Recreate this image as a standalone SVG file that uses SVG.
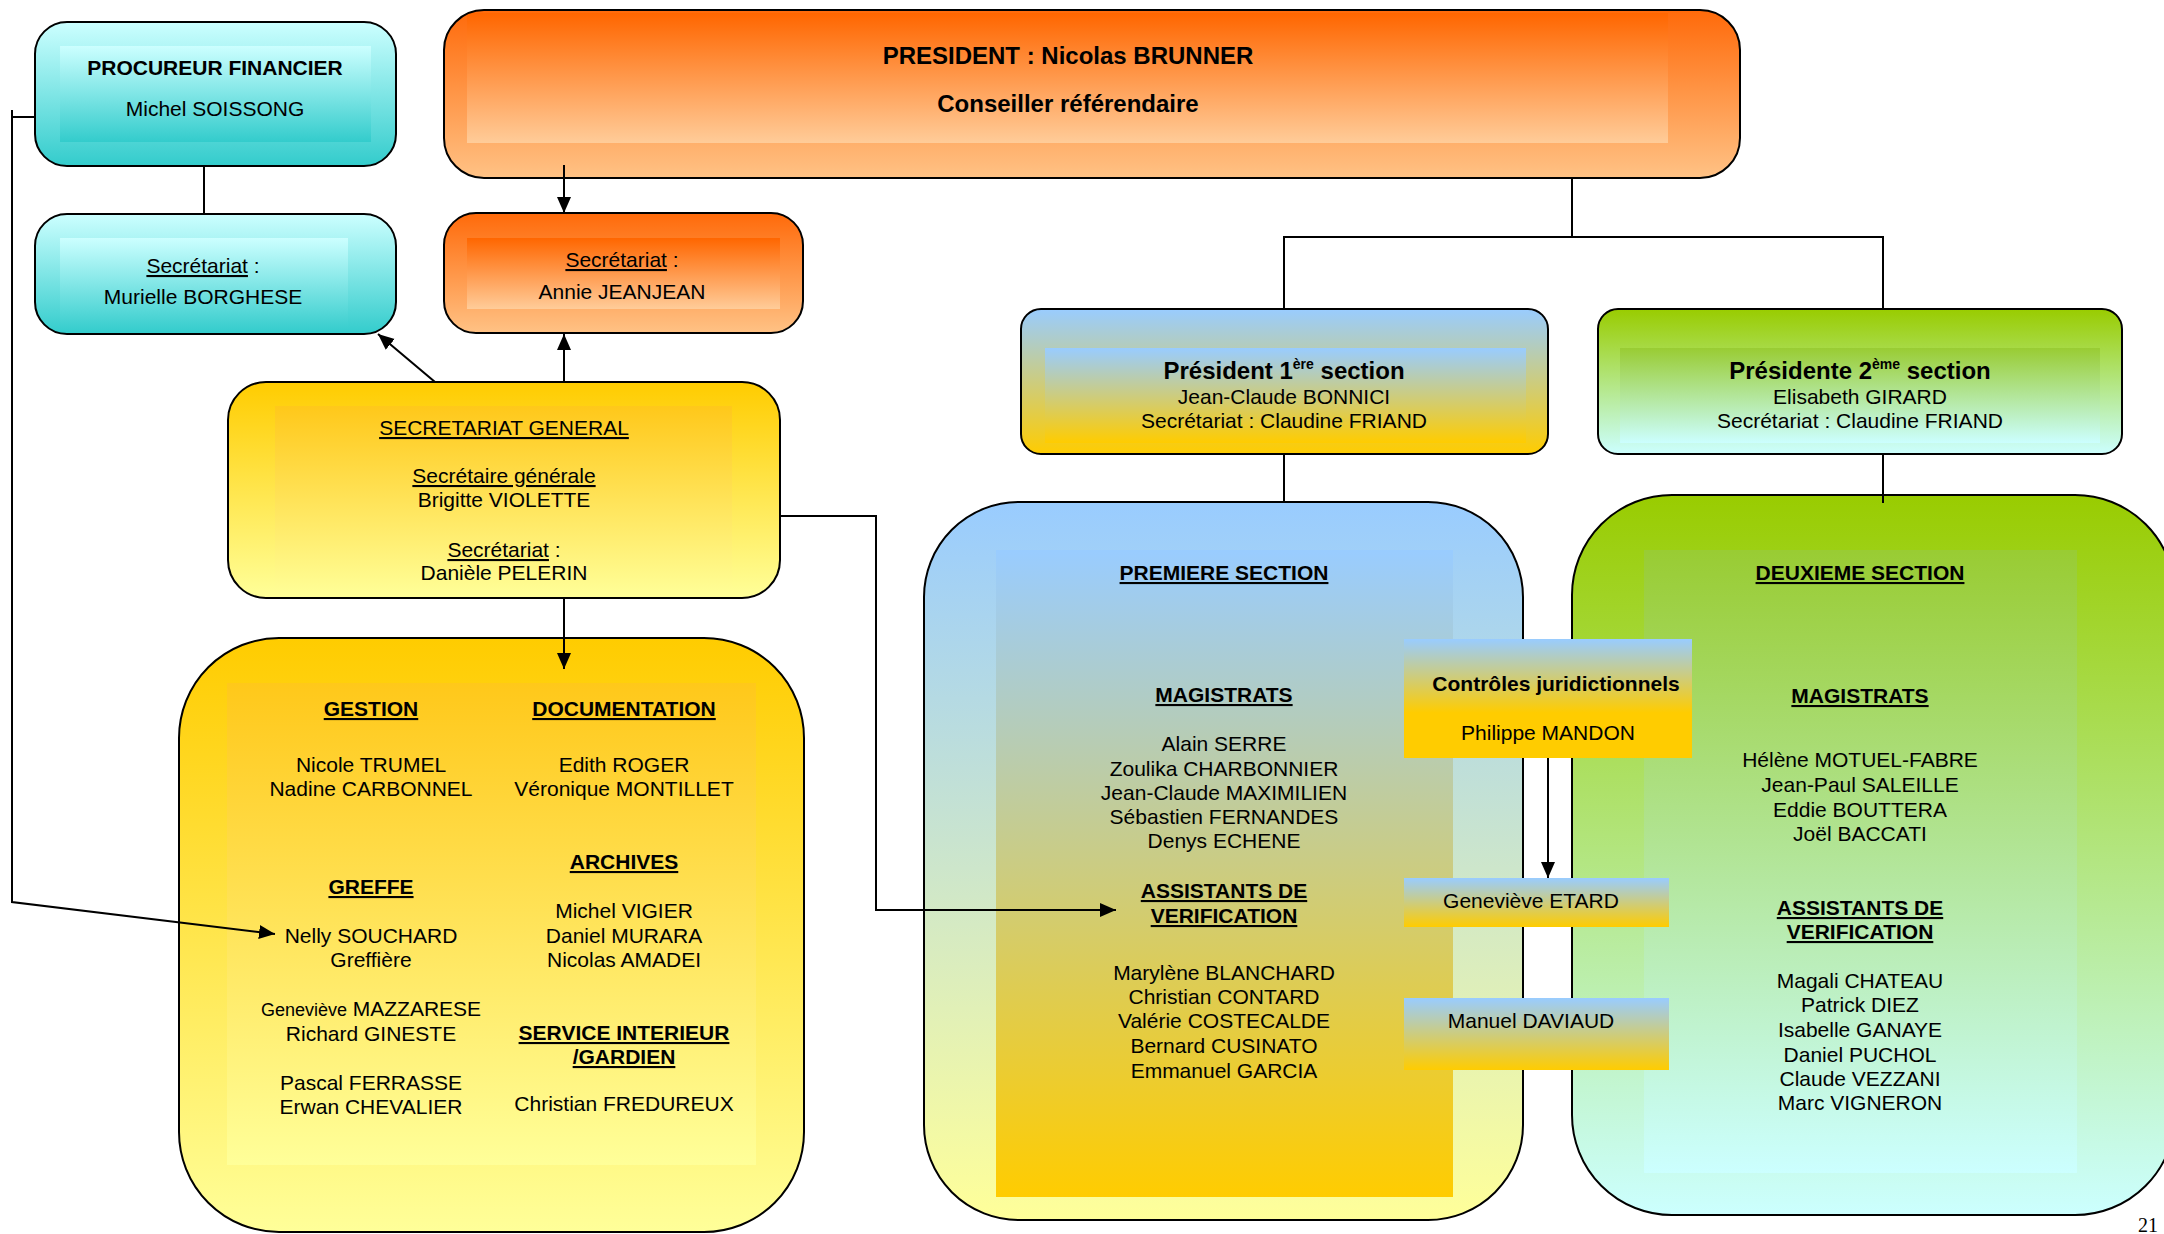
<svg xmlns="http://www.w3.org/2000/svg" width="2164" height="1234" viewBox="0 0 2164 1234">
<defs>
<linearGradient id="gCyan" x1="0" y1="0" x2="0" y2="1"><stop offset="0" stop-color="#CCFFFF"/><stop offset="1" stop-color="#33CCCC"/></linearGradient>
<linearGradient id="gOrange" x1="0" y1="0" x2="0" y2="1"><stop offset="0" stop-color="#FF6600"/><stop offset="1" stop-color="#FFCC99"/></linearGradient>
<linearGradient id="gOrangeOut" x1="0" y1="0" x2="0" y2="1"><stop offset="0" stop-color="#FF6A0A"/><stop offset="1" stop-color="#FFC285"/></linearGradient>
<linearGradient id="gGold" x1="0" y1="0" x2="0" y2="1"><stop offset="0" stop-color="#FFCC00"/><stop offset="1" stop-color="#FFFF99"/></linearGradient>
<linearGradient id="gGoldIn" x1="0" y1="0" x2="0" y2="1"><stop offset="0" stop-color="#FFC81A"/><stop offset="1" stop-color="#FFFF99"/></linearGradient>
<linearGradient id="gBlueGold" x1="0" y1="0" x2="0" y2="1"><stop offset="0" stop-color="#99CCFF"/><stop offset="1" stop-color="#FFCC00"/></linearGradient>
<linearGradient id="gBlueYellow" x1="0" y1="0" x2="0" y2="1"><stop offset="0" stop-color="#99CCFF"/><stop offset="1" stop-color="#FFFF99"/></linearGradient>
<linearGradient id="gGreen" x1="0" y1="0" x2="0" y2="1"><stop offset="0" stop-color="#99CC00"/><stop offset="1" stop-color="#CCFFFF"/></linearGradient>
<linearGradient id="gGreenIn" x1="0" y1="0" x2="0" y2="1"><stop offset="0" stop-color="#99CC33"/><stop offset="1" stop-color="#CCFFFF"/></linearGradient>
<linearGradient id="gCtrl" x1="0" y1="0" x2="0" y2="1"><stop offset="0" stop-color="#99CCFF"/><stop offset="0.62" stop-color="#FFCC00"/><stop offset="1" stop-color="#FFCC00"/></linearGradient>
<marker id="arr" markerUnits="userSpaceOnUse" markerWidth="16" markerHeight="16" refX="16" refY="8" orient="auto"><path d="M0,1 L16,8 L0,15 z" fill="#000"/></marker>
<style>
.box{stroke:#000;stroke-width:2}
.t{font-family:"Liberation Sans",Arial,sans-serif;font-size:21px;fill:#000;text-anchor:middle}
.b{font-weight:bold}
.big{font-size:24px;font-weight:bold}
.u{text-decoration:underline}
.ln{fill:none;stroke:#000;stroke-width:2}
</style>
</defs>
<rect width="2164" height="1234" fill="#fff"/>

<g id="procureur">
<rect x="35" y="22" width="361" height="144" rx="32" fill="url(#gCyan)"/>
<rect x="60" y="46" width="311" height="96" fill="url(#gCyan)"/>
<rect class="box" x="35" y="22" width="361" height="144" rx="32" fill="none"/>
<text class="t b" x="215" y="75">PROCUREUR FINANCIER</text>
<text class="t" x="215" y="116">Michel SOISSONG</text>
</g>

<g id="secr-procureur">
<rect x="35" y="214" width="361" height="120" rx="32" fill="url(#gCyan)"/>
<rect x="60" y="238" width="288" height="95" fill="url(#gCyan)"/>
<rect class="box" x="35" y="214" width="361" height="120" rx="32" fill="none"/>
<text class="t" x="203" y="273"><tspan class="u">Secrétariat</tspan> :</text>
<text class="t" x="203" y="304">Murielle BORGHESE</text>
</g>

<g id="president">
<rect x="444" y="10" width="1296" height="168" rx="40" fill="url(#gOrangeOut)"/>
<rect x="467" y="13" width="1201" height="130" fill="url(#gOrange)"/>
<rect class="box" x="444" y="10" width="1296" height="168" rx="40" fill="none"/>
<text class="t big" x="1068" y="64">PRESIDENT : Nicolas BRUNNER</text>
<text class="t big" x="1068" y="112">Conseiller référendaire</text>
</g>

<g id="secr-president">
<rect x="444" y="213" width="359" height="120" rx="32" fill="url(#gOrangeOut)"/>
<rect x="467" y="238" width="313" height="71" fill="url(#gOrange)"/>
<rect class="box" x="444" y="213" width="359" height="120" rx="32" fill="none"/>
<text class="t" x="622" y="267"><tspan class="u">Secrétariat</tspan> :</text>
<text class="t" x="622" y="299">Annie JEANJEAN</text>
</g>

<g id="secretariat-general">
<rect x="228" y="382" width="552" height="216" rx="38" fill="url(#gGold)"/>
<rect x="275" y="406" width="457" height="192" fill="url(#gGoldIn)"/>
<rect class="box" x="228" y="382" width="552" height="216" rx="38" fill="none"/>
<text class="t u" x="504" y="435">SECRETARIAT GENERAL</text>
<text class="t u" x="504" y="483">Secrétaire générale</text>
<text class="t" x="504" y="507">Brigitte VIOLETTE</text>
<text class="t" x="504" y="557"><tspan class="u">Secrétariat</tspan> :</text>
<text class="t" x="504" y="580">Danièle PELERIN</text>
</g>

<g id="services">
<rect x="179" y="638" width="625" height="594" rx="100" fill="url(#gGold)"/>
<rect x="227" y="683" width="529" height="482" fill="url(#gGoldIn)"/>
<rect class="box" x="179" y="638" width="625" height="594" rx="100" fill="none"/>
<text class="t b u" x="371" y="716">GESTION</text>
<text class="t" x="371" y="772">Nicole TRUMEL</text>
<text class="t" x="371" y="796">Nadine CARBONNEL</text>
<text class="t b u" x="371" y="894">GREFFE</text>
<text class="t" x="371" y="943">Nelly SOUCHARD</text>
<text class="t" x="371" y="967">Greffière</text>
<text class="t" x="371" y="1016"><tspan font-size="18">Geneviève</tspan> MAZZARESE</text>
<text class="t" x="371" y="1041">Richard GINESTE</text>
<text class="t" x="371" y="1090">Pascal FERRASSE</text>
<text class="t" x="371" y="1114">Erwan CHEVALIER</text>
<text class="t b u" x="624" y="716">DOCUMENTATION</text>
<text class="t" x="624" y="772">Edith ROGER</text>
<text class="t" x="624" y="796">Véronique MONTILLET</text>
<text class="t b u" x="624" y="869">ARCHIVES</text>
<text class="t" x="624" y="918">Michel VIGIER</text>
<text class="t" x="624" y="943">Daniel MURARA</text>
<text class="t" x="624" y="967">Nicolas AMADEI</text>
<text class="t b u" x="624" y="1040">SERVICE INTERIEUR</text>
<text class="t b u" x="624" y="1064">/GARDIEN</text>
<text class="t" x="624" y="1111">Christian FREDUREUX</text>
</g>

<g id="president-1">
<rect x="1021" y="309" width="527" height="145" rx="20" fill="url(#gBlueGold)"/>
<rect x="1045" y="348" width="481" height="95" fill="url(#gBlueGold)"/>
<rect class="box" x="1021" y="309" width="527" height="145" rx="20" fill="none"/>
<text class="t big" x="1284" y="379">Président 1<tspan font-size="14" dy="-10">ère</tspan><tspan dy="10"> section</tspan></text>
<text class="t" x="1284" y="404">Jean-Claude BONNICI</text>
<text class="t" x="1284" y="428">Secrétariat : Claudine FRIAND</text>
</g>

<g id="president-2">
<rect x="1598" y="309" width="524" height="145" rx="20" fill="url(#gGreen)"/>
<rect x="1620" y="348" width="480" height="95" fill="url(#gGreenIn)"/>
<rect class="box" x="1598" y="309" width="524" height="145" rx="20" fill="none"/>
<text class="t big" x="1860" y="379">Présidente 2<tspan font-size="14" dy="-10">ème</tspan><tspan dy="10"> section</tspan></text>
<text class="t" x="1860" y="404">Elisabeth GIRARD</text>
<text class="t" x="1860" y="428">Secrétariat : Claudine FRIAND</text>
</g>

<g id="premiere-section">
<rect x="924" y="502" width="599" height="718" rx="95" fill="url(#gBlueYellow)"/>
<rect x="996" y="550" width="457" height="647" fill="url(#gBlueGold)"/>
<rect class="box" x="924" y="502" width="599" height="718" rx="95" fill="none"/>
<text class="t b u" x="1224" y="580">PREMIERE SECTION</text>
<text class="t b u" x="1224" y="702">MAGISTRATS</text>
<text class="t" x="1224" y="751">Alain SERRE</text>
<text class="t" x="1224" y="776">Zoulika CHARBONNIER</text>
<text class="t" x="1224" y="800">Jean-Claude MAXIMILIEN</text>
<text class="t" x="1224" y="824">Sébastien FERNANDES</text>
<text class="t" x="1224" y="848">Denys ECHENE</text>
<text class="t b u" x="1224" y="898">ASSISTANTS DE</text>
<text class="t b u" x="1224" y="923">VERIFICATION</text>
<text class="t" x="1224" y="980">Marylène BLANCHARD</text>
<text class="t" x="1224" y="1004">Christian CONTARD</text>
<text class="t" x="1224" y="1028">Valérie COSTECALDE</text>
<text class="t" x="1224" y="1053">Bernard CUSINATO</text>
<text class="t" x="1224" y="1078">Emmanuel GARCIA</text>
</g>

<g id="deuxieme-section">
<rect x="1572" y="495" width="603" height="720" rx="100" fill="url(#gGreen)"/>
<rect x="1644" y="550" width="433" height="623" fill="url(#gGreenIn)"/>
<rect class="box" x="1572" y="495" width="603" height="720" rx="100" fill="none"/>
<text class="t b u" x="1860" y="580">DEUXIEME SECTION</text>
<text class="t b u" x="1860" y="703">MAGISTRATS</text>
<text class="t" x="1860" y="767">Hélène MOTUEL-FABRE</text>
<text class="t" x="1860" y="792">Jean-Paul SALEILLE</text>
<text class="t" x="1860" y="817">Eddie BOUTTERA</text>
<text class="t" x="1860" y="841">Joël BACCATI</text>
<text class="t b u" x="1860" y="915">ASSISTANTS DE</text>
<text class="t b u" x="1860" y="939">VERIFICATION</text>
<text class="t" x="1860" y="988">Magali CHATEAU</text>
<text class="t" x="1860" y="1012">Patrick DIEZ</text>
<text class="t" x="1860" y="1037">Isabelle GANAYE</text>
<text class="t" x="1860" y="1062">Daniel PUCHOL</text>
<text class="t" x="1860" y="1086">Claude VEZZANI</text>
<text class="t" x="1860" y="1110">Marc VIGNERON</text>
</g>

<g id="controles">
<rect x="1404" y="639" width="288" height="119" fill="url(#gCtrl)"/>
<text class="t b" x="1556" y="691">Contrôles juridictionnels</text>
<text class="t" x="1548" y="740">Philippe MANDON</text>
</g>

<g id="etard">
<rect x="1404" y="878" width="265" height="49" fill="url(#gBlueGold)"/>
<text class="t" x="1531" y="908">Geneviève ETARD</text>
</g>

<g id="daviaud">
<rect x="1404" y="998" width="265" height="72" fill="url(#gBlueGold)"/>
<text class="t" x="1531" y="1028">Manuel DAVIAUD</text>
</g>

<g id="connectors">
<line class="ln" x1="204" y1="166" x2="204" y2="214"/>
<line class="ln" x1="564" y1="165" x2="564" y2="213" marker-end="url(#arr)"/>
<line class="ln" x1="564" y1="382" x2="564" y2="334" marker-end="url(#arr)"/>
<line class="ln" x1="435" y1="382" x2="378" y2="334" marker-end="url(#arr)"/>
<line class="ln" x1="564" y1="598" x2="564" y2="669" marker-end="url(#arr)"/>
<polyline class="ln" points="780,516 876,516 876,910 1116,910" marker-end="url(#arr)"/>
<polyline class="ln" points="35,117 12,117"/>
<polyline class="ln" points="12,110 12,902 275,934" marker-end="url(#arr)"/>
<line class="ln" x1="1572" y1="178" x2="1572" y2="237"/>
<polyline class="ln" points="1284,309 1284,237 1883,237 1883,309"/>
<line class="ln" x1="1284" y1="454" x2="1284" y2="502"/>
<line class="ln" x1="1883" y1="454" x2="1883" y2="503"/>
<line class="ln" x1="1548" y1="758" x2="1548" y2="878" marker-end="url(#arr)"/>
</g>

<text x="2158" y="1232" text-anchor="end" font-family="Liberation Serif,serif" font-size="20" fill="#000">21</text>
</svg>
